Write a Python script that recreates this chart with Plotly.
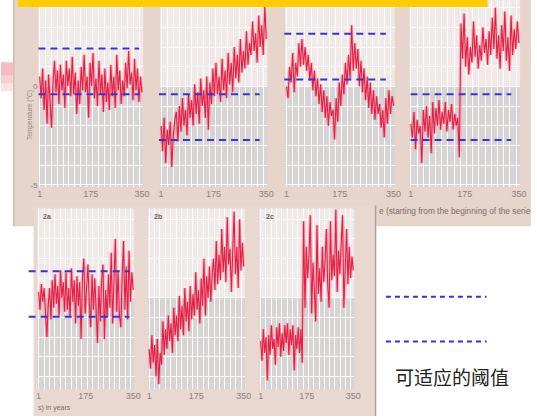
import numpy as np
import plotly.graph_objects as go

W, H = 537, 419

# ---------------- data ----------------
x_index = np.linspace(1, 350, 70)
tick_values = [1, 175, 350]
tick_labels = ["1", "175", "350"]

series_p1 = [0.5, -0.6, 0.9, -1.2, 0.3, -1.9, 0.6, -0.8, -2.1, 0.2,
             1.3, -0.3, 0.8, -0.9, 1.1, -0.2, 0.6, -1.1, 1.3, 0.0,
             0.9, -0.5, 1.5, -0.4, 0.7, -1.4, 0.3, -0.9, 1.0, -0.2,
             1.6, -0.3, 0.5, -1.6, 1.2, 0.0, 1.7, -0.6, 0.4, -1.0,
             1.3, -0.4, 0.6, -1.3, 0.9, -0.8, 0.2, -1.2, 1.1, -0.5,
             0.5, -1.1, 1.6, -0.2, 0.8, -0.9, 0.3, -0.5, 1.2, -0.1,
             1.8, 0.1, 0.7, -0.7, 1.4, -0.2, 0.9, -0.8, 0.5, -0.3]
series_p2 = [-2.0, -3.3, -1.6, -3.9, -2.2, -3.0, -1.8, -4.1, -2.5, -1.7,
             -1.3, -2.8, -1.0, -2.3, -0.6, -2.0, -1.2, -2.5, -0.4, -1.6,
             -0.7, -2.0, 0.1, -1.4, -0.3, -1.9, 0.4, -1.0, -0.2, -1.6,
             0.5, -2.2, 0.2, -0.9, 0.9, -0.5, 1.2, -0.4, 0.5, -0.8,
             1.4, -0.2, 0.8, -0.6, 1.7, 0.1, 1.2, -0.3, 2.0, 0.4,
             1.6, 0.2, 2.4, 0.7, 1.8, 0.9, 2.8, 1.1, 2.2, 1.6,
             3.3, 1.8, 2.7, 1.2, 3.6, 2.0, 3.1, 1.6, 4.1, 2.4]
series_p3 = [0.0, -0.6, 1.0, 0.2, 1.7, -0.3, 1.2, 0.5, 2.2, 1.0,
             2.4, 1.1, 2.0, 0.8, 1.6, 0.3, 1.2, -0.2, 0.8, -0.5,
             0.4, -0.9, 0.1, -1.3, -0.2, -1.6, -0.5, -2.0, -0.8, -1.5,
             -1.2, -2.7, -0.6, -1.8, 0.2, -1.0, 0.6, -0.4, 1.2, 0.1,
             1.6, 0.4, 3.1, 0.8, 2.2, 0.9, 1.9, 0.0, 1.3, -0.3,
             0.9, -0.7, 0.5, -1.1, 0.2, -1.4, -0.2, -1.7, -0.5, -1.4,
             -0.9, -2.1, -1.2, -2.6, -0.6, -1.9, -0.2, -1.4, -0.5, -1.0]
series_p4 = [-1.9, -2.6, -1.3, -3.2, -1.7, -2.4, -2.0, -3.9, -1.2, -2.3,
             -1.0, -2.6, -1.5, -3.4, -0.8, -2.4, -1.1, -2.0, -0.7, -2.2,
             -1.3, -1.9, -0.8, -2.3, -1.2, -1.8, -0.9, -2.2, -1.4, -2.0,
             -1.6, -3.6, 3.2, 1.4, 3.7, 1.0, 2.5, 0.6, 2.0, 1.2,
             3.3, 1.5, 2.6, 0.9, 2.1, 1.3, 3.0, 1.7, 2.4, 1.1,
             2.8, 1.6, 3.5, 1.9, 4.0, 1.4, 2.6, 0.9, 3.1, 1.8,
             3.8, 1.3, 2.5, 0.8, 3.6, 1.6, 2.9, 1.9, 3.3, 2.2]
series_2a = [0.3, -0.6, 0.7, -0.2, 0.5, -1.2, -2.0, -0.4, 0.5, -1.1,
             0.9, -0.5, 1.2, -0.3, 0.6, -0.9, 1.4, 0.0, 0.8, -0.7,
             1.3, -0.6, 0.5, -1.0, 1.5, -0.2, 0.9, -1.3, 1.1, -0.4,
             0.8, -2.1, 1.0, 2.0, -0.8, 0.5, 1.7, -0.3, -1.5, 1.2,
             -0.6, 1.0, -0.9, -2.3, 0.6, -1.2, 0.9, 1.7, -2.1, 0.4,
             -1.0, 1.2, -0.5, 2.3, -1.3, 0.8, 3.0, -0.7, 1.4, -0.9,
             -1.5, 1.1, 2.9, -0.6, 1.6, -1.1, 2.4, -0.2, 1.3, 0.4]
series_2b = [-2.6, -3.6, -1.9, -3.3, -2.4, -4.0, -2.1, -4.4, -2.8, -3.4,
             -1.2, -2.9, -1.6, -2.6, -0.9, -2.2, -1.3, -2.8, -0.5, -1.9,
             -0.9, -2.2, 0.1, -1.6, -0.4, -1.9, 0.5, -1.2, -0.2, -1.7,
             0.6, -1.1, 0.2, -0.9, 1.3, -0.6, 0.4, -1.3, 1.0, -0.4,
             2.0, -0.9, 1.1, 0.0, 1.6, -0.2, 1.2, 2.0, 0.4, 2.9,
             0.7, 2.2, 0.9, 3.5, 1.3, 2.6, 0.8, 4.1, 1.7, 2.5,
             0.3, 2.9, 4.4, 1.2, 2.6, 0.5, 4.0, 1.4, 2.8, 1.6]
series_2c = [-2.2, -3.2, -1.6, -2.8, -2.0, -4.2, -1.9, -2.9, -1.4, -2.6,
             -2.1, -3.4, -1.5, -2.5, -1.3, -3.0, -1.8, -2.7, -1.4, -2.3,
             -1.3, -2.9, -1.6, -2.4, -1.4, -3.7, -1.9, -2.6, -1.5, -2.8,
             -1.6, -3.3, 3.9, -0.5, 2.6, 1.0, 2.2, 4.2, -0.8, 1.8,
             0.4, -1.2, 3.7, 0.2, 1.5, -0.2, 2.6, 0.8, 1.9, 3.5,
             0.6, -0.5, 3.9, 0.9, 2.2, 1.1, 4.5, 0.3, 2.4, 1.2,
             2.8, 4.2, -0.5, 1.6, 3.5, 0.7, 2.6, 1.0, 2.1, 1.4]

thresholds_p1 = [1.92, -0.40]
thresholds_p2 = [-0.40, -2.73]
thresholds_p3 = [2.68, 0.35]
thresholds_p4 = [-0.40, -2.73]
thresholds_2a = [1.36, -0.96]

panel_labels = ["", "", "", "", "2a", "2b", "2c"]
legend_text = "可适应的阈值"

# ---------------- layout helpers ----------------
def px(x):
    return x / W


def py(y):
    return 1 - y / H


TOP_RANGE = [-5.1, 4.39]
BOT_RANGE = [-4.65, 4.55]

# (left, right, top, bottom) in pixels, y range, series, thresholds, dashed extents
panels = [
    (38, 144, 0, 188, TOP_RANGE, series_p1, thresholds_p1, (38, 140)),
    (161, 270, 0, 188, TOP_RANGE, series_p2, thresholds_p2, (160, 262)),
    (288, 399, 0, 188, TOP_RANGE, series_p3, thresholds_p3, (287, 390)),
    (414, 526, 0, 188, TOP_RANGE, series_p4, thresholds_p4, (415, 517)),
    (37, 135, 210, 392, BOT_RANGE, series_2a, thresholds_2a, (28, 130)),
    (149, 247, 210, 392, BOT_RANGE, series_2b, None, None),
    (262, 358, 210, 392, BOT_RANGE, series_2c, None, None),
]

BEIGE = "#e7d4ca"
BEIGE2 = "#e9d8cf"
UPPER = "#f1e9e7"
LOWER = "#d8d4d4"
RED = "#e61e44"
HALO = "rgba(236,70,100,0.30)"
BLUE = "#3434d6"
TICK_COLOR = "#8c827d"
FONT = "Liberation Sans"

fig = go.Figure()
shapes = []
annotations = []
layout = dict(
    width=W, height=H, autosize=False,
    margin=dict(l=0, r=0, t=0, b=0),
    paper_bgcolor="white", plot_bgcolor=UPPER,
    showlegend=False,
    font=dict(family=FONT, color=TICK_COLOR),
)

# background images (paper shapes)
shapes += [
    dict(type="rect", xref="paper", yref="paper", x0=px(12), x1=px(537), y0=py(228), y1=py(0),
         fillcolor=BEIGE, line=dict(width=0), layer="below"),
    dict(type="line", xref="paper", yref="paper", x0=px(13), x1=px(13), y0=py(228), y1=py(0),
         line=dict(color="#cdbdb4", width=1.5), layer="below"),
    dict(type="rect", xref="paper", yref="paper", x0=px(33), x1=px(379), y0=py(419), y1=py(207),
         fillcolor=BEIGE2, line=dict(width=0), layer="below"),
    dict(type="line", xref="paper", yref="paper", x0=px(379.5), x1=px(379.5), y0=py(419), y1=py(207),
         line=dict(color="#aaa2a0", width=1.5), layer="below"),
]
# pink decoration at left edge
for k, col in enumerate(["#fbe3e4", "#f8cfd2", "#f6bcc0"]):
    shapes.append(dict(type="rect", xref="paper", yref="paper",
                       x0=px(0), x1=px(12), y0=py(92 - k * 8), y1=py(63),
                       fillcolor=col, line=dict(width=0), layer="below"))

for i, (l, r, t, b, yr, ser, thr, dash_ext) in enumerate(panels, start=1):
    sfx = "" if i == 1 else str(i)
    xa, ya = "x" + sfx, "y" + sfx
    layout["xaxis" + sfx] = dict(
        domain=[px(l), px(r)], range=[-3, 354], anchor=ya,
        tickmode="array", tickvals=tick_values, ticktext=tick_labels,
        ticks="", showgrid=False, zeroline=False, showline=False,
        tickfont=dict(size=9, color=TICK_COLOR, family=FONT),
        minor=dict(tickmode="linear", tick0=1, dtick=20, showgrid=True,
                   gridcolor="white", gridwidth=1.2, ticks=""),
    )
    layout["yaxis" + sfx] = dict(
        domain=[py(b), py(t)], range=yr, anchor=xa,
        tickmode="linear", tick0=0, dtick=1, showgrid=True,
        gridcolor="white", gridwidth=1.2, zeroline=False, showline=False,
        showticklabels=False, ticks="",
    )
    if i == 1:
        layout["yaxis"].update(
            tickmode="array", tickvals=list(range(-5, 5)),
            ticktext=["-5" if v == -5 else ("0" if v == 0 else "") for v in range(-5, 5)],
            showticklabels=True, tickfont=dict(size=8, color=TICK_COLOR, family=FONT),
        )
    # panel backgrounds (upper light, lower gray)
    shapes.append(dict(type="rect", xref=xa + " domain", yref=ya, x0=0, x1=1, y0=0, y1=yr[1],
                       fillcolor=UPPER, line=dict(width=0), layer="below"))
    shapes.append(dict(type="rect", xref=xa + " domain", yref=ya, x0=0, x1=1, y0=yr[0], y1=0,
                       fillcolor=LOWER, line=dict(width=0), layer="below"))
    fig.add_trace(go.Scatter(x=x_index, y=ser, mode="lines",
                             line=dict(color=HALO, width=3.5), xaxis=xa, yaxis=ya,
                             hoverinfo="skip"))
    fig.add_trace(go.Scatter(x=x_index, y=ser, mode="lines",
                             line=dict(color=RED, width=1.1), xaxis=xa, yaxis=ya,
                             hoverinfo="skip"))
    if thr is not None:
        for v in thr:
            shapes.append(dict(type="line", xref="paper", yref=ya,
                               x0=px(dash_ext[0]), x1=px(dash_ext[1]), y0=v, y1=v,
                               line=dict(color=BLUE, width=2, dash="7px,5px"), layer="above"))
    if panel_labels[i - 1]:
        annotations.append(dict(xref="paper", yref="paper", x=px(l + 4), y=py(218),
                                text="<b>" + panel_labels[i - 1] + "</b>", showarrow=False,
                                xanchor="left", yanchor="middle",
                                font=dict(size=7, color="#6a615d", family=FONT)))

# yellow title bar (cropped)
shapes.append(dict(type="rect", xref="paper", yref="paper", x0=px(17), x1=px(493), y0=py(7), y1=py(0),
                   fillcolor="#ffcc00", line=dict(width=0), layer="above"))

# legend dashes
for yy in (299, 344):
    shapes.append(dict(type="line", xref="paper", yref="paper", x0=px(390), x1=px(492),
                       y0=py(yy), y1=py(yy),
                       line=dict(color=BLUE, width=2, dash="5px,4px"), layer="above"))

annotations += [
    dict(xref="paper", yref="paper", x=px(24), y=py(89), text="Temperature (°C)",
         textangle=-90, showarrow=False, font=dict(size=6.5, color=TICK_COLOR, family=FONT)),
    dict(xref="paper", yref="paper", x=px(381), y=py(213), xanchor="left", yanchor="middle",
         text="e (starting from the beginning of the serie", showarrow=False,
         font=dict(size=8.3, color="#7a6f6a", family=FONT)),
    dict(xref="paper", yref="paper", x=px(35), y=py(411), xanchor="left", yanchor="middle",
         text="s) in years", showarrow=False, font=dict(size=7, color="#7a6f6a", family=FONT)),
    dict(xref="paper", yref="paper", x=px(457), y=py(379), xanchor="center", yanchor="middle",
         text=legend_text, showarrow=False,
         font=dict(size=19, color="#222222", family="Noto Sans CJK SC")),
]

layout["shapes"] = shapes
layout["annotations"] = annotations
fig.update_layout(**layout)
fig.write_html(
    "out.html",
    config={"displayModeBar": False},
    post_script="document.body.style.margin='0';document.body.style.overflow='hidden';",
)
